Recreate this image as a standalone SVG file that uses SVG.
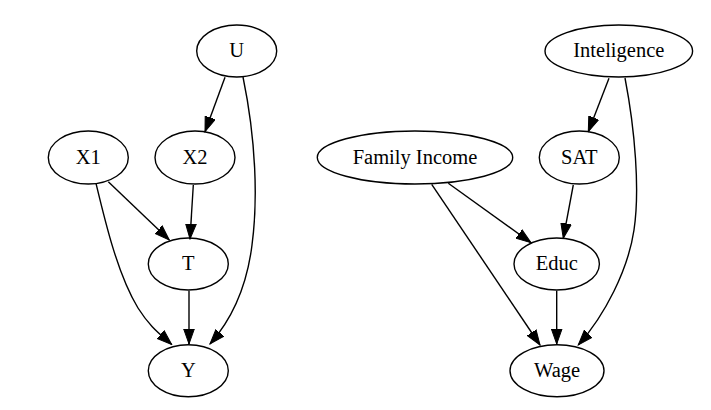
<svg xmlns="http://www.w3.org/2000/svg" width="711" height="410" viewBox="0 0 711 410">
<style>
  .node ellipse { fill: none; stroke: #000; stroke-width: 1.4; }
  .node text { font-family: "Liberation Serif", "Times New Roman", serif; font-size: 20.5px; text-anchor: middle; fill: #000; }
  .edge { fill: none; stroke: #000; stroke-width: 1.4; marker-end: url(#arrow); }
</style>
<defs>
  <marker id="arrow" markerUnits="userSpaceOnUse" markerWidth="16" markerHeight="12" viewBox="0 -6 16 12" refX="15" refY="0" orient="auto">
    <path d="M0,-5.3 L15,0 L0,5.3 Z" fill="#000" stroke="#000" stroke-width="1"/>
  </marker>
</defs>
<rect width="711" height="410" fill="#fff"/>
<g id="connectors">
  <path class="edge" d="M225,77.3 L205,131.7"/>
  <path class="edge" d="M243,77 C256,140 258,200 252,245 C247,285 233,318 210,344"/>
  <path class="edge" d="M108.3,181.7 L169.3,240"/>
  <path class="edge" d="M96,183.3 C106,225 118,275 138,308 C150,327 160,334 171.7,344.5"/>
  <path class="edge" d="M193.3,185 L190,239"/>
  <path class="edge" d="M189,290.7 L189,344"/>
  <path class="edge" d="M609,78.3 L588.3,131.7"/>
  <path class="edge" d="M625,78 C635,130 640,190 634,230 C628,270 605,315 578.3,345"/>
  <path class="edge" d="M448.3,183.3 L531,242.7"/>
  <path class="edge" d="M431.7,184.3 L540,345"/>
  <path class="edge" d="M573.3,185 L563.3,238.3"/>
  <path class="edge" d="M556.7,290.7 L556.7,344"/>
</g>
<g id="node-U" class="node"><ellipse cx="236.7" cy="51" rx="40" ry="26"/><text x="236.7" y="57">U</text></g>
<g id="node-X1" class="node"><ellipse cx="88.3" cy="157.5" rx="40" ry="26.5"/><text x="88.3" y="163.5">X1</text></g>
<g id="node-X2" class="node"><ellipse cx="195" cy="157.5" rx="40" ry="26.5"/><text x="195" y="163.5">X2</text></g>
<g id="node-T" class="node"><ellipse cx="188.3" cy="264" rx="40" ry="26"/><text x="188.3" y="270">T</text></g>
<g id="node-Y" class="node"><ellipse cx="188.3" cy="370.7" rx="40" ry="26"/><text x="188.3" y="376.7">Y</text></g>
<g id="node-Inteligence" class="node"><ellipse cx="618.8" cy="51" rx="73.8" ry="26"/><text x="618.8" y="57">Inteligence</text></g>
<g id="node-FamilyIncome" class="node"><ellipse cx="415" cy="157.5" rx="97.7" ry="26.5"/><text x="415" y="163.5">Family Income</text></g>
<g id="node-SAT" class="node"><ellipse cx="579.3" cy="157.5" rx="40" ry="26.5"/><text x="579.3" y="163.5">SAT</text></g>
<g id="node-Educ" class="node"><ellipse cx="556.7" cy="264" rx="42.7" ry="26"/><text x="556.7" y="270">Educ</text></g>
<g id="node-Wage" class="node"><ellipse cx="557" cy="370.7" rx="47" ry="26"/><text x="557" y="376.7">Wage</text></g>
</svg>
